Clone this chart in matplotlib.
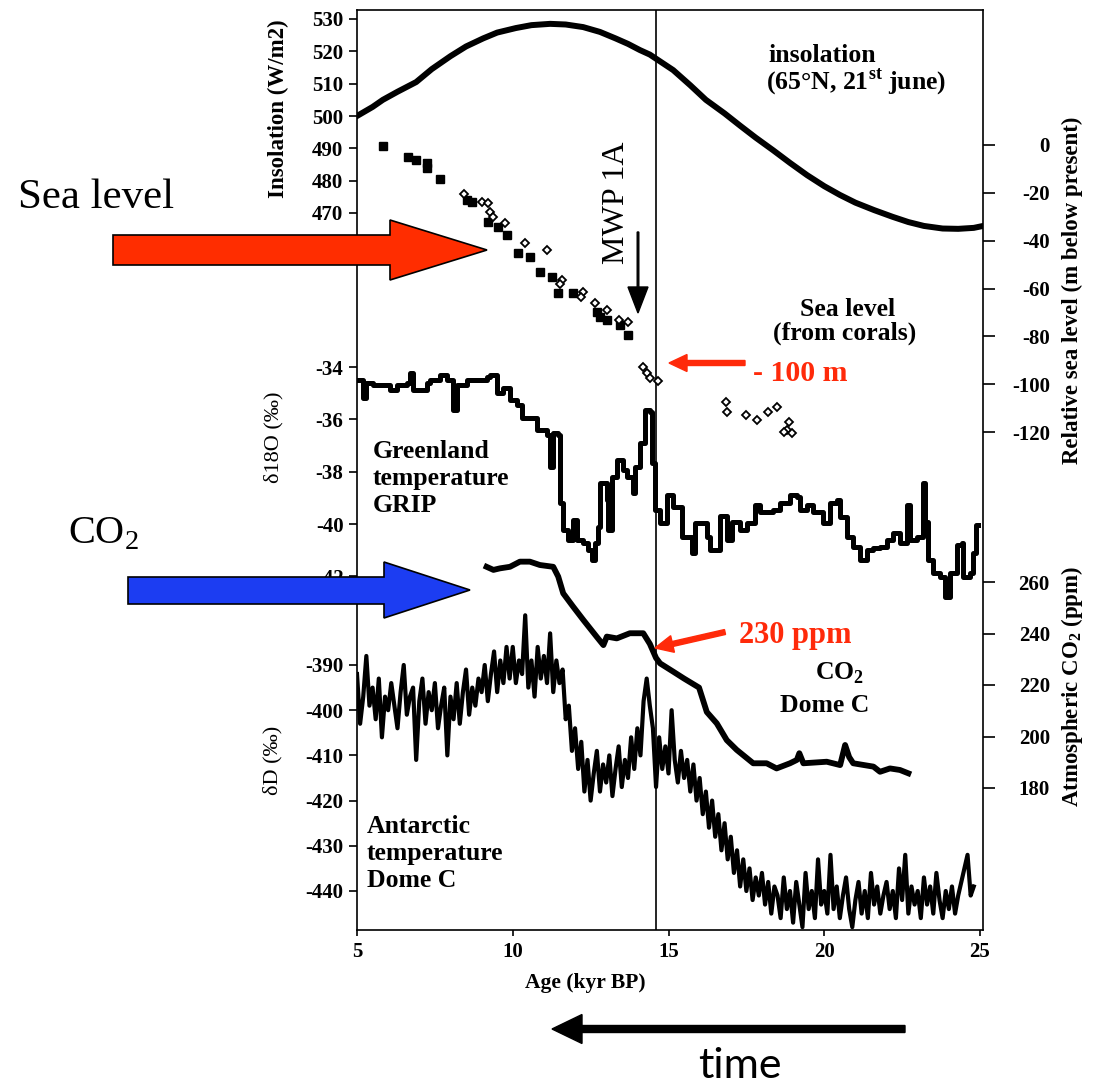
import numpy as np
import matplotlib.pyplot as plt
from matplotlib.patches import Polygon, FancyArrow
from matplotlib.transforms import IdentityTransform

# ---- data ----
ins_age = [5.0, 5.5, 5.83, 6.3, 6.9, 7.4, 8.0, 8.5, 9.05, 9.5, 10.1, 10.6, 11.2, 11.7, 12.26, 12.8,
           13.3, 13.7, 14.08, 14.4, 15.15, 15.7, 16.2, 16.8, 17.3, 17.8, 18.36, 18.9, 19.45, 20.0,
           20.5, 21.0, 21.6, 22.2, 22.7, 23.2, 23.8, 24.3, 24.8, 25.1]
ins_val = [500, 502.8, 505, 507.5, 510.5, 514.5, 518.5, 521.5, 524, 525.8, 527.2, 528.1, 528.5,
           528.3, 527.5, 526, 524, 522.3, 520.4, 519, 514.2, 509.5, 505, 500.8, 497, 493.3, 489.4,
           485.5, 481.7, 478.3, 475.6, 473.2, 470.9, 468.8, 467.2, 466.0, 465.2, 465.1, 465.4, 466]

# sea level, filled squares (Barbados corals)
sq_age = [5.83, 6.64, 6.89, 7.25, 7.25, 7.66, 8.53, 8.69, 9.21, 9.53, 9.82, 10.17, 10.55,
          10.87, 11.26, 11.45, 11.93, 12.70, 12.80, 13.03, 13.44, 13.70]
sq_val = [-0.4, -5.0, -6.3, -7.5, -9.6, -14.2, -23.0, -23.8, -32.2, -34.3, -37.7, -45.2, -46.9,
          -53.1, -55.2, -61.9, -61.9, -69.9, -72.0, -73.2, -75.3, -79.5]
# sea level, open diamonds (other corals)
dm_age = [8.43, 9.01, 9.21, 9.27, 9.37, 9.75, 10.39, 11.10, 11.58, 11.52, 12.26, 12.19, 12.64,
          13.03, 13.41, 13.70, 14.18, 14.31, 14.41, 14.66, 16.85, 16.88, 17.49, 17.84, 18.19,
          18.48, 18.87, 18.80, 18.96, 18.71]
dm_val = [-20.5, -23.8, -24.3, -28.0, -30.1, -32.6, -41.0, -43.9, -56.5, -58.2, -61.5, -63.6, -66.1,
          -69.0, -73.2, -74.1, -92.9, -95.4, -97.5, -98.7, -107.5, -111.7, -113.0, -115.1, -111.7,
          -109.6, -115.9, -119.2, -120.5, -120.1]

# GRIP d18O (step series)
grip_age = [5.04, 5.20, 5.30, 5.52, 6.06, 6.30, 6.59, 6.70, 6.81, 7.24, 7.34, 7.66, 7.88, 8.09,
            8.20, 8.52, 9.16, 9.27, 9.48, 9.70, 9.91, 10.13, 10.29, 10.66, 10.77, 11.09, 11.20,
            11.30, 11.46, 11.52, 11.62, 11.78, 11.94, 12.05, 12.26, 12.43, 12.53, 12.64, 12.75,
            12.80, 13.02, 13.07, 13.18, 13.34, 13.55, 13.66, 13.87, 13.92, 14.09, 14.25, 14.41,
            14.46, 14.57, 14.73, 14.94, 15.15, 15.37, 15.42, 15.74, 15.85, 16.23, 16.33, 16.65,
            16.87, 17.03, 17.30, 17.51, 17.78, 17.94, 18.15, 18.37, 18.58, 18.90, 19.12, 19.22,
            19.44, 19.65, 19.97, 20.18, 20.40, 20.51, 20.72, 20.93, 21.15, 21.36, 21.58, 21.79,
            22.01, 22.22, 22.43, 22.65, 22.75, 22.97, 23.16, 23.23, 23.34, 23.50, 23.72, 23.88,
            24.04, 24.25, 24.41, 24.46, 24.68, 24.79, 24.87, 24.95]
grip_val = [-34.50, -35.18, -34.60, -34.70, -34.88, -34.70, -34.60, -34.23, -34.88, -34.60, -34.50,
            -34.31, -34.50, -35.64, -34.69, -34.50, -34.38, -34.31, -34.99, -34.80, -35.26, -35.45,
            -35.95, -35.95, -36.41, -36.60, -37.82, -36.52, -36.60, -39.20, -40.23, -40.61, -39.85,
            -40.61, -40.73, -40.99, -41.37, -40.73, -40.11, -38.43, -39.08, -40.23, -38.20, -37.55,
            -37.94, -38.20, -38.81, -37.82, -36.90, -35.64, -35.72, -37.67, -39.46, -39.96, -38.89,
            -39.35, -39.35, -40.50, -41.11, -39.97, -40.48, -40.99, -39.70, -40.61, -39.91, -40.23,
            -39.97, -39.27, -39.53, -39.53, -39.46, -39.21, -38.89, -38.96, -39.46, -39.27, -39.53,
            -39.97, -39.21, -39.08, -39.72, -40.48, -40.87, -41.37, -40.99, -40.93, -40.87, -40.61,
            -40.36, -40.74, -39.27, -40.61, -40.48, -38.44, -39.91, -41.37, -41.88, -42.01, -42.78,
            -41.88, -40.80, -40.74, -42.01, -41.88, -41.12, -40.04, -40.04]

# CO2 Dome C
co2_age = [9.16, 9.38, 9.59, 9.91, 10.23, 10.55, 10.87, 11.30, 11.46, 11.62, 11.94, 12.27, 12.48,
           12.69, 12.91, 13.02, 13.34, 13.76, 14.19, 14.40, 14.60, 14.73, 15.15, 15.50, 15.98,
           16.23, 16.55, 16.87, 17.19, 17.72, 18.15, 18.47, 18.90, 19.12, 19.20, 19.33, 20.08,
           20.51, 20.67, 20.80, 20.93, 21.58, 21.79, 22.11, 22.43, 22.70]
co2_val = [265.9, 264.7, 265.3, 265.9, 267.9, 267.9, 266.6, 265.9, 262.1, 255.6, 250.4, 245.2, 242.0,
           238.8, 235.5, 238.8, 238.1, 240.1, 240.1, 236.0, 230.5, 228.4, 225.2, 222.5, 219.0,
           209.5, 205.1, 198.6, 194.8, 189.6, 189.6, 187.6, 189.6, 190.9, 193.5, 189.6, 190.2,
           188.9, 196.7, 192.0, 189.6, 188.3, 186.3, 187.6, 187.0, 185.7]

# Dome C deuterium, every 0.1 kyr from 5.0 to 24.8
dd_age = np.round(np.arange(5.0, 24.85, 0.1), 1)
dd_val = [
    -392, -403, -397, -388, -399, -395, -402, -393, -406, -397,
    -400, -394, -399, -404, -396, -390, -401, -397, -395, -411,
    -398, -393, -403, -396, -400, -394, -404, -399, -395, -410,
    -397, -402, -394, -403, -396, -391, -401, -395, -399, -393,
    -396, -390, -398, -392, -387, -396, -389, -394, -386, -393,
    -386, -394, -389, -392, -379, -395, -389, -397, -386, -393,
    -388, -394, -383, -396, -389, -394, -391, -402, -399, -409,
    -404, -413, -407, -418, -411, -420, -414, -409, -418, -412,
    -416, -410, -419, -413, -408, -417, -411, -415, -406, -413,
    -404, -410, -398, -393, -399, -404, -417, -406, -413, -408,
    -414, -400, -411, -416, -409, -415, -411, -418, -412, -420,
    -415, -423, -418, -426, -420, -428, -423, -431, -425, -433,
    -428, -436, -431, -439, -433, -440, -435, -442, -437, -441,
    -436, -443, -438, -445, -439, -441, -446, -437, -444, -440,
    -447, -438, -443, -448, -436, -444, -440, -446, -433, -443,
    -440, -445, -432, -444, -439, -446, -441, -437, -444, -448,
    -442, -438, -445, -440, -446, -436, -443, -439, -445, -441,
    -438, -444, -440, -446, -435, -442, -432, -445, -439, -443,
    -440, -446, -437, -443, -439, -445, -436, -442, -446, -440,
    -444, -439, -445, -441, -438, -435, -432, -441, -439,
]

ins_ticks = [470, 480, 490, 500, 510, 520, 530]
sl_ticks = [0, -20, -40, -60, -80, -100, -120]
o18_ticks = [-34, -36, -38, -40, -42]
co2_ticks = [260, 240, 220, 200, 180]
dd_ticks = [-390, -400, -410, -420, -430, -440]
x_ticks = [5, 10, 15, 20, 25]

# ---- figure ----
plt.rcParams['font.family'] = ['Liberation Serif', 'DejaVu Serif']
plt.rcParams['mathtext.fontset'] = 'custom'
plt.rcParams['mathtext.rm'] = 'Liberation Serif'
plt.rcParams['mathtext.bf'] = 'Liberation Serif:bold'
plt.rcParams['axes.unicode_minus'] = False

W, H = 1093, 1085
L, R, T, B = 357, 983, 10, 930
RED = '#ff2a0a'

fig = plt.figure(figsize=(W / 100, H / 100), dpi=100)
ax = fig.add_axes([L / W, 1 - B / H, (R - L) / W, (B - T) / H])
ax.set_xlim(5, 5 + (R - L) / 31.15)


def fit_ylim(a, v1, p1, v2, p2):
    # v1 sits at pixel row p1, v2 at row p2
    s = (v2 - v1) / (p2 - p1)
    a.set_ylim(v1 + s * (B - p1), v1 + s * (T - p1))


def style_ticks(a, side):
    if side == 'left':
        a.tick_params(axis='y', direction='out', length=5.8, width=1.2, pad=4, labelsize=15)
    else:
        a.tick_params(axis='y', direction='out', length=8.6, width=1.2, pad=39.5, labelsize=15)
        plt.setp(a.get_yticklabels(), ha='right')
    plt.setp(a.get_yticklabels(), fontweight='bold')


def twin(side, v1, p1, v2, p2, ticks):
    a = ax.twinx()
    fit_ylim(a, v1, p1, v2, p2)
    for s in a.spines.values():
        s.set_visible(False)
    a.yaxis.set_ticks_position(side)
    a.set_yticks(ticks)
    style_ticks(a, side)
    return a


for s in ax.spines.values():
    s.set_linewidth(1.2)
fit_ylim(ax, 530, 19, 470, 213)
ax.set_yticks(ins_ticks)
style_ticks(ax, 'left')
ax.set_xticks(x_ticks)
ax.tick_params(axis='x', direction='out', length=4.5, width=1.2, pad=4, labelsize=15)
plt.setp(ax.get_xticklabels(), fontweight='bold')

ax.plot(ins_age, ins_val, color='black', lw=4.3, solid_joinstyle='round')
ax.axvline(14.6, color='black', lw=1.2)

sl = twin('right', 0, 145, -120, 432, sl_ticks)
sl.plot(sq_age, sq_val, 's', ms=6, color='black')
sl.plot(dm_age, dm_val, 'D', ms=3.6, mfc='white', mec='black', mew=1.3)

o18 = twin('left', -34, 367, -40, 524, o18_ticks)
o18.plot(grip_age, grip_val, color='black', lw=3.6, drawstyle='steps-post')

co2 = twin('right', 260, 582, 180, 788, co2_ticks)
co2.plot(co2_age, co2_val, color='black', lw=4.2, solid_joinstyle='round')

dd = twin('left', -390, 665, -440, 891, dd_ticks)
dd.plot(dd_age, dd_val, color='black', lw=3.0)


def ftext(x, y, s, **kw):
    kw.setdefault('va', 'baseline')
    kw.setdefault('ha', 'left')
    fig.text(x / W, 1 - y / H, s, **kw)


# axis labels
ftext(278, 109, 'Insolation (W/m2)', rotation=90, ha='center', va='center', size=16.5, fontweight='bold')
ftext(274, 437, 'δ18O (‰)', rotation=90, ha='center', va='center', size=16)
ftext(273, 760, 'δD (‰)', rotation=90, ha='center', va='center', size=16)
ftext(1072, 290, 'Relative sea level (m below present)', rotation=90, ha='center', va='center',
      size=16.5, fontweight='bold')
ftext(1072, 686, r'Atmospheric CO$_{\mathbf{2}}$ (ppm)', rotation=90, ha='center', va='center',
      size=16.5, fontweight='bold')
ftext(585, 988, 'Age (kyr BP)', ha='center', size=15.5, fontweight='bold')

# annotations inside the panel
ann = dict(size=18.5, fontweight='bold')
ftext(768, 62, 'insolation', **ann)
ftext(766, 89, r'(65°N, 21$^{\mathbf{st}}$ june)', **ann)
ftext(800, 316, 'Sea level', **ann)
ftext(773, 340, '(from corals)', **ann)
ftext(373, 458, 'Greenland', **ann)
ftext(373, 485, 'temperature', **ann)
ftext(373, 512, 'GRIP', **ann)
ftext(815, 680, r'CO$_{\mathbf{2}}$', **ann)
ftext(780, 712, 'Dome C', **ann)
ftext(367, 833, 'Antarctic', **ann)
ftext(367, 860, 'temperature', **ann)
ftext(367, 887, 'Dome C', **ann)
ftext(617, 203, 'MWP 1A', rotation=90, ha='center', va='center', size=23)
ftext(753, 381, '- 100 m', color=RED, size=21.5, fontweight='bold')
ftext(739, 643, '230 ppm', color=RED, size=22, fontweight='bold')

# slide annotations outside the panel
ftext(18, 208, 'Sea level', size=31)
ftext(68, 543, r'CO$_{\mathrm{2}}$', size=29)
ftext(740, 1078, 'time', ha='center', size=31, family=['Lato', 'DejaVu Sans'])


def px(pts):
    return [(x, H - y) for x, y in pts]


ident = IdentityTransform()
red_block = Polygon(px([(113, 235), (390, 235), (390, 220), (487, 250), (390, 280), (390, 265), (113, 265)]),
                    closed=True, facecolor='#ff2d00', edgecolor='black', lw=1.2, transform=ident)
blue_block = Polygon(px([(128, 577), (384, 577), (384, 562), (470, 590), (384, 618), (384, 604), (128, 604)]),
                     closed=True, facecolor='#1c3df2', edgecolor='black', lw=1.2, transform=ident)
fig.add_artist(red_block)
fig.add_artist(blue_block)

arrows = [
    FancyArrow(745, H - 363, -76, 0, width=5, head_width=17, head_length=18,
               length_includes_head=True, color=RED, transform=ident),
    FancyArrow(725, H - 632, -70, -16, width=5, head_width=17, head_length=18,
               length_includes_head=True, color=RED, transform=ident),
    FancyArrow(638, H - 232, 0, -81, width=1.6, head_width=20, head_length=26,
               length_includes_head=True, color='black', transform=ident),
    FancyArrow(905, H - 1029, -353, 0, width=7, head_width=29, head_length=30,
               length_includes_head=True, color='black', transform=ident),
]
for a in arrows:
    fig.add_artist(a)

fig.savefig('out.png', dpi=100)
